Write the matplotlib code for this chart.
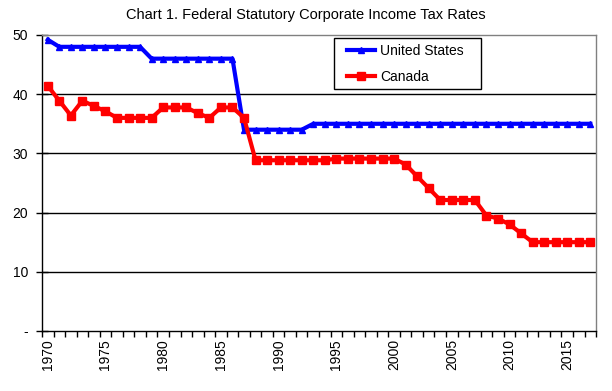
import matplotlib.pyplot as plt
from matplotlib.patches import Rectangle

plt.rcParams['font.family'] = ['Liberation Sans', 'DejaVu Sans']

# Jahre 1970 - 2017
years = list(range(1970, 2018))

us_rates = [49.2] + [48] * 8 + [46] * 8 + [34] * 6 + [35] * 25

canada_rates = [41.4, 38.9, 36.4, 38.9, 38.0, 37.1, 36.0, 36.0, 36.0, 36.0,
                37.76, 37.76, 37.76, 36.8, 36.0, 37.76, 37.76, 36.0,
                28.84, 28.84, 28.84, 28.84, 28.84, 28.84, 28.84,
                29.12, 29.12, 29.12, 29.12, 29.12, 29.12,
                28.12, 26.12, 24.12, 22.12, 22.12, 22.12, 22.12,
                19.5, 19.0, 18.0, 16.5, 15, 15, 15, 15, 15, 15]

y_ticks = [0, 10, 20, 30, 40, 50]
y_labels = ['-', '10', '20', '30', '40', '50']

fig = plt.figure(figsize=(6.12, 3.91), dpi=100)
ax = fig.add_axes([0.0686, 0.1535, 0.9054, 0.757])

x = range(len(years))
ax.plot(x, us_rates, color='#0000ff', linewidth=3, marker='^', markersize=5,
        label='United States')
ax.plot(x, canada_rates, color='#ff0000', linewidth=3, marker='s', markersize=5.5,
        label='Canada')

ax.set_ylim(0, 50)
ax.set_yticks(y_ticks)
ax.set_yticklabels(y_labels, fontsize=10)
for yv in [10, 20, 30, 40]:
    ax.axhline(yv, color='black', linewidth=1, zorder=0)

# Kategorien-Achse: Striche zwischen den Jahren, Beschriftung alle 5 Jahre
ax.set_xlim(-0.5, len(years) - 0.5)
ax.set_xticks([i - 0.5 for i in range(len(years) + 1)])
ax.set_xticklabels([])
ax.set_xticks([i for i, yr in enumerate(years) if yr % 5 == 0], minor=True)
ax.set_xticklabels([str(yr) for yr in years if yr % 5 == 0], minor=True,
                   rotation=90, fontsize=10)
ax.tick_params(axis='x', which='major', length=4, width=1, direction='out')
ax.tick_params(axis='x', which='minor', length=0, pad=6)
ax.tick_params(axis='y', length=8, width=1, direction='inout', pad=6)

ax.spines['top'].set_color('#808080')
ax.spines['right'].set_color('#808080')
ax.spines['left'].set_color('black')
ax.spines['bottom'].set_color('black')
for s in ax.spines.values():
    s.set_linewidth(1)

# Legende ohne eigenen Rahmen, Rahmen separat
ax.legend(loc='upper left', bbox_to_anchor=(0.5505, 0.970), borderaxespad=0,
          borderpad=0, fontsize=10, frameon=False,
          labelspacing=0.85, handletextpad=0.4, handlelength=2.0)
ax.add_patch(Rectangle((0.527, 0.8176), 0.265, 0.1724, transform=ax.transAxes,
                       facecolor='white', edgecolor='black', linewidth=1,
                       zorder=4))

fig.suptitle('Chart 1. Federal Statutory Corporate Income Tax Rates', fontsize=10.5,
             y=0.98)

fig.savefig('out.png', dpi=100)
